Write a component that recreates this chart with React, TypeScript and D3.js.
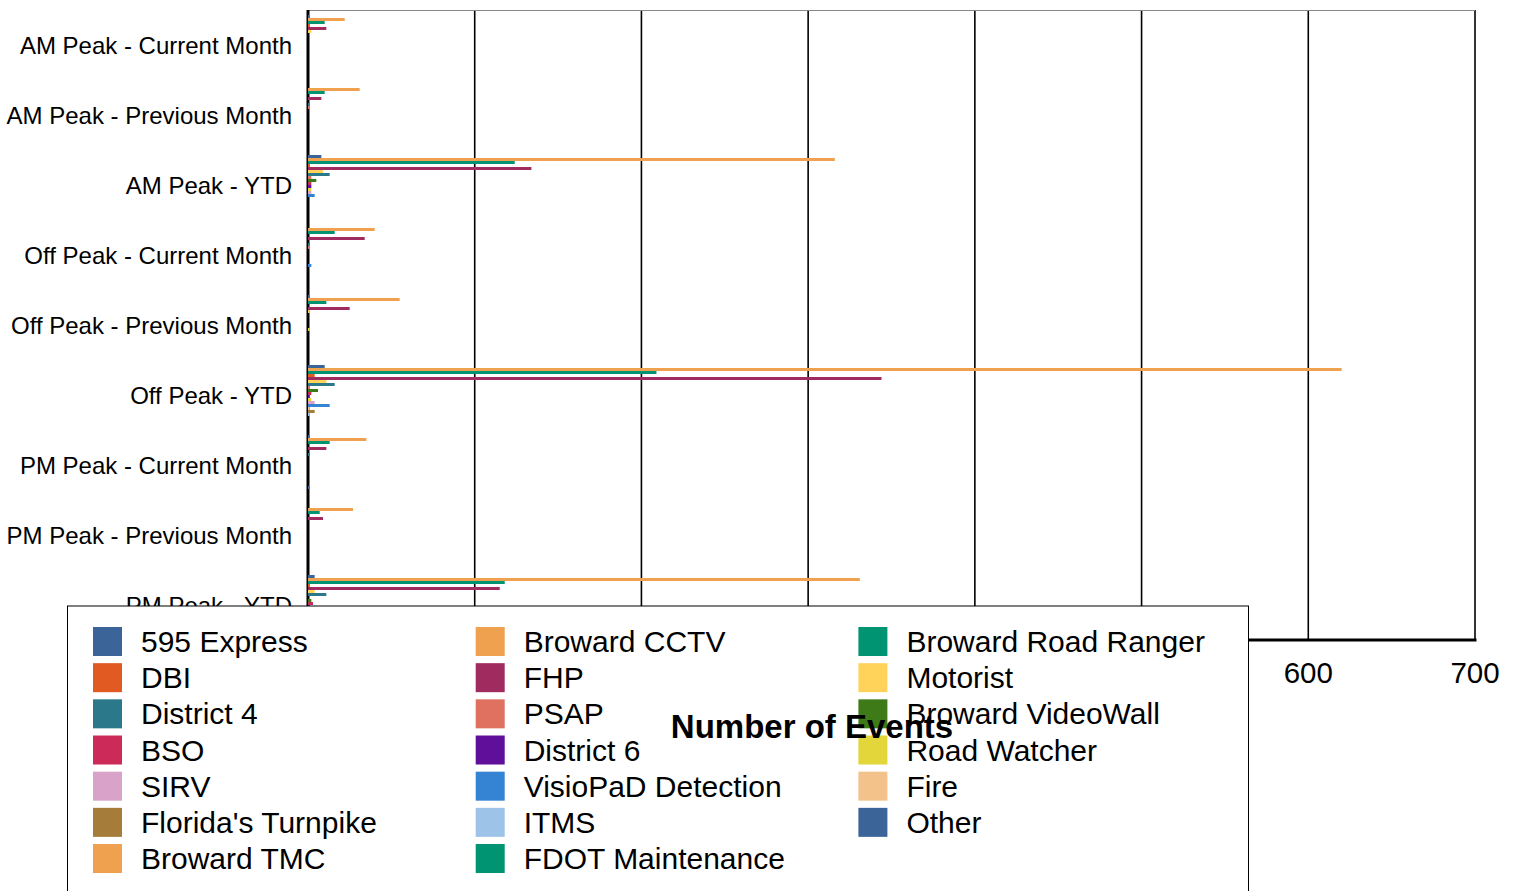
import React from "react";
import * as d3 from "d3";

const categories = [
  "AM Peak - Current Month",
  "AM Peak - Previous Month",
  "AM Peak - YTD",
  "Off Peak - Current Month",
  "Off Peak - Previous Month",
  "Off Peak - YTD",
  "PM Peak - Current Month",
  "PM Peak - Previous Month",
  "PM Peak - YTD",
];

const seriesNames = [
  "595 Express", "Broward CCTV", "Broward Road Ranger",
  "DBI", "FHP", "Motorist",
  "District 4", "PSAP", "Broward VideoWall",
  "BSO", "District 6", "Road Watcher",
  "SIRV", "VisioPaD Detection", "Fire",
  "Florida's Turnpike", "ITMS", "Other",
  "Broward TMC", "FDOT Maintenance",
];

const seriesColors = [
  "#3b6499", "#f0a150", "#009473",
  "#e05a22", "#a02b5e", "#ffd35a",
  "#2a788a", "#e07060", "#3f7a18",
  "#cc2b5a", "#5f0f9a", "#e2d63a",
  "#d9a3c9", "#3584d4", "#f2c28a",
  "#a67c3a", "#9dc3e8", "#3b6499",
  "#f0a150", "#009473",
];

const express595 = [1, 0, 8, 0, 1, 10, 1, 0, 4];
const browardCCTV = [22, 31, 316, 40, 55, 620, 35, 27, 331];
const roadRanger = [10, 10, 124, 16, 11, 209, 13, 7, 118];
const dbi = [1, 0, 1, 0, 0, 4, 0, 0, 1];
const fhp = [11, 8, 134, 34, 25, 344, 11, 9, 115];
const motorist = [2, 0, 9, 0, 1, 11, 0, 0, 4];
const district4 = [0, 1, 13, 1, 0, 16, 1, 0, 11];
const psap = [0, 1, 2, 1, 0, 1, 0, 0, 0];
const videoWall = [0, 0, 5, 0, 0, 6, 0, 0, 2];
const bso = [0, 0, 2, 0, 0, 2, 0, 0, 3];
const district6 = [0, 0, 2, 0, 0, 1, 0, 0, 1];
const roadWatcher = [0, 0, 2, 0, 1, 2, 0, 0, 1];
const sirv = [0, 0, 2, 0, 0, 4, 0, 0, 1];
const visioPaD = [0, 0, 4, 2, 0, 13, 0, 0, 5];
const fire = [0, 0, 0, 0, 0, 1, 0, 0, 1];
const turnpike = [0, 0, 0, 0, 0, 4, 0, 0, 1];
const itms = [0, 0, 0, 0, 0, 1, 0, 0, 0];
const other = [0, 0, 0, 0, 0, 0, 1, 0, 0];
const browardTMC = [0, 0, 0, 0, 0, 0, 0, 0, 0];
const fdotMaint = [0, 0, 0, 0, 0, 0, 0, 0, 0];

const seriesValues = [
  express595, browardCCTV, roadRanger, dbi, fhp, motorist, district4, psap,
  videoWall, bso, district6, roadWatcher, sirv, visioPaD, fire, turnpike,
  itms, other, browardTMC, fdotMaint,
];

const xTicks = [0, 100, 200, 300, 400, 500, 600, 700];

const FONT = "'Liberation Sans', Arial, Helvetica, sans-serif";

export default function App() {
  const left = 308, right = 1475, top = 10, bottom = 640;
  const x = d3.scaleLinear().domain([0, 700]).range([left, right]);
  const y = d3.scaleBand<string>().domain(categories).range([top, bottom]).padding(0);
  const bw = y.bandwidth();
  const inner = d3.scaleBand<string>().domain(seriesNames).range([5, bw - 5]).padding(0);

  const legendRows = 7;
  return (
    <svg width={1520} height={891} style={{ position: "absolute", left: 0, top: 0 }} fontFamily={FONT}>
      <rect x={0} y={0} width={1520} height={891} fill="#fff" />
      {/* grid */}
      {xTicks.slice(1).map((t) => (
        <line key={t} x1={x(t)} x2={x(t)} y1={top} y2={bottom} stroke="#000" strokeWidth={1.6} />
      ))}
      <line x1={left} x2={right} y1={top + 0.5} y2={top + 0.5} stroke="#888" strokeWidth={1} />
      {/* axes */}
      <line x1={left} x2={left} y1={top} y2={bottom + 1.5} stroke="#000" strokeWidth={3} />
      <line x1={left - 1.5} x2={right + 1.5} y1={bottom} y2={bottom} stroke="#000" strokeWidth={3} />
      {/* bars */}
      {seriesValues.map((vals, si) =>
        vals.map((v, ci) =>
          v > 0 ? (
            <rect
              key={`${si}-${ci}`}
              x={x(0)}
              y={(y(categories[ci]) as number) + (inner(seriesNames[si]) as number)}
              width={x(v) - x(0)}
              height={inner.bandwidth()}
              fill={seriesColors[si]}
            />
          ) : null
        )
      )}
      {/* category labels */}
      {categories.map((c) => (
        <text key={c} x={292} y={(y(c) as number) + bw / 2 + 8.5} textAnchor="end" fontSize={24} fill="#000">
          {c}
        </text>
      ))}
      {/* tick labels */}
      {xTicks.map((t) => (
        <text key={t} x={x(t)} y={683} textAnchor="middle" fontSize={29.5} fill="#000">
          {t}
        </text>
      ))}
      {/* legend */}
      <rect x={67.5} y={606} width={1181} height={300} fill="#fff" stroke="#000" strokeWidth={1} />
      {seriesNames.map((n, i) => {
        const row = Math.floor(i / 3);
        const col = i % 3;
        const cy = 641.5 + row * 36.17;
        const sx = 93 + col * 382.7;
        return (
          <g key={n}>
            <rect x={sx} y={cy - 14.5} width={29} height={29} fill={seriesColors[i]} />
            <text x={sx + 48} y={cy + 10.5} fontSize={30} fill="#000">
              {n}
            </text>
          </g>
        );
      })}
      {/* axis title */}
      <text x={812} y={738} textAnchor="middle" fontSize={33} fontWeight="bold" fill="#000">
        Number of Events
      </text>
    </svg>
  );
}
